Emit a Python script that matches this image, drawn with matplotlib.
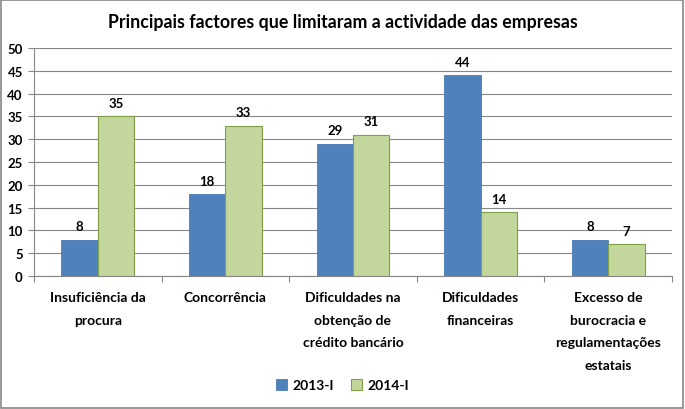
import matplotlib
matplotlib.use("Agg")
import matplotlib.pyplot as plt
import numpy as np

categories = ["Insuficiência da\nprocura", "Concorrência", "Dificuldades na\nobtenção de\ncrédito bancário",
              "Dificuldades\nfinanceiras", "Excesso de\nburocracia e\nregulamentações\nestatais"]
series_names = ["2013-I", "2014-I"]
values_2013 = [8, 18, 29, 44, 8]
values_2014 = [35, 33, 31, 14, 7]
y_ticks = list(range(0, 55, 5))

plt.rcParams['font.family'] = ['Lato', 'DejaVu Sans']

fig = plt.figure(figsize=(6.85, 4.1), dpi=100)
ax = fig.add_axes([0.0496, 0.3244, 0.9314, 0.5561])

x = np.arange(len(categories))
w = 0.285
b1 = ax.bar(x - w / 2, values_2013, w, color="#4F81BD", edgecolor="#4A7AB4", linewidth=0.6,
            label=series_names[0], zorder=3)
b2 = ax.bar(x + w / 2, values_2014, w, color="#C3D69B", edgecolor="#7F9F4A", linewidth=0.8,
            label=series_names[1], zorder=3)

for bars in (b1, b2):
    for r in bars:
        ax.text(r.get_x() + r.get_width() / 2, r.get_height() + 1.6, f"{int(r.get_height())}",
                ha="center", va="bottom", fontsize=9.5, fontweight="bold")

ax.set_xlim(-0.5, len(categories) - 0.5)
ax.set_ylim(0, 50)
ax.set_yticks(y_ticks)
ax.set_yticklabels([str(t) for t in y_ticks], fontsize=9.5, fontweight="bold")
ax.yaxis.grid(True, color="#868686", linewidth=0.8, zorder=0)

ax.set_xticks(np.arange(len(categories) + 1) - 0.5, minor=False)
ax.set_xticklabels([])
ax.set_xticks(x, minor=True)
ax.set_xticklabels(categories, minor=True, fontsize=10, fontweight="bold", va="top",
                   linespacing=2.05)
ax.tick_params(axis="x", which="minor", length=0, pad=11)
ax.tick_params(axis="x", which="major", length=4, color="#868686")
ax.tick_params(axis="y", length=4, color="#868686", pad=4)

for s in ["top", "right"]:
    ax.spines[s].set_visible(False)
for s in ["left", "bottom"]:
    ax.spines[s].set_color("#868686")

fig.text(0.5, 0.945, "Principais factores que limitaram a actividade das empresas", ha="center",
         va="center", fontsize=12.8, fontweight="bold")

fig.legend(handles=[b1, b2], labels=series_names, loc="center", bbox_to_anchor=(0.5, 0.058),
           ncol=2, frameon=False, prop={"weight": "bold", "size": 10},
           handlelength=0.8, handleheight=0.8, columnspacing=1.2, handletextpad=0.4)

fig.patches.append(plt.Rectangle((0.002, 0.003), 0.995, 0.994, transform=fig.transFigure,
                                 fill=False, edgecolor="#868686", linewidth=1.2))

fig.savefig("out.png", dpi=100)
